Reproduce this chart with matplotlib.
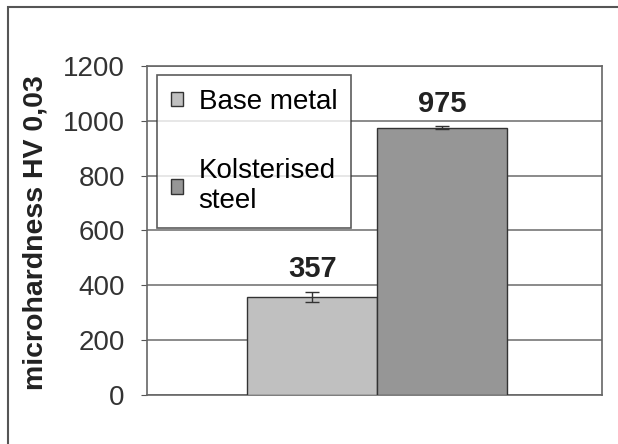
import matplotlib
matplotlib.use("Agg")
import matplotlib.pyplot as plt
from matplotlib.patches import Rectangle

# Data
series = ["Base metal", "Kolsterised\nsteel"]
values = [357, 975]
errors = [18, 5]
bar_colors = ["#c0c0c0", "#969696"]
yticks = [0, 200, 400, 600, 800, 1000, 1200]

plt.rcParams['font.family'] = ['Liberation Sans', 'DejaVu Sans']

fig = plt.figure(figsize=(6.18, 4.44), dpi=100)
ax = fig.add_axes([0.2379, 0.1104, 0.7362, 0.741])

# outer frame of the picture
fig.patches.append(Rectangle((8 / 618, -0.05), 1.2, 1 - 7 / 444 + 0.05, transform=fig.transFigure,
                             fill=False, edgecolor="#555555", linewidth=1.5))

width = 0.285
positions = [0.5055 - width / 2, 0.5055 + width / 2]
for pos, val, err, col, lab in zip(positions, values, errors, bar_colors, series):
    ax.bar(pos, val, width=width, color=col, edgecolor="#333333", linewidth=1.0,
           label=lab, zorder=3)
    ax.errorbar(pos, val, yerr=err, fmt='none', ecolor="#333333", capsize=5,
                elinewidth=1, zorder=4)
    ax.text(pos, val + err + 32, str(val), ha='center', va='bottom',
            fontsize=21, fontweight='bold', color="#222222")

ax.set_xlim(0, 1)
ax.set_ylim(0, 1200)
ax.set_yticks(yticks)
ax.set_xticks([])
ax.tick_params(axis='y', labelsize=20, length=4, direction='out', colors="#555555",
               labelcolor="#333333", pad=12)
ax.yaxis.grid(True, color="#777777", linewidth=1.2, zorder=0)
for s in ax.spines.values():
    s.set_color("#666666")
    s.set_linewidth(1.2)

ax.set_ylabel("microhardness HV 0,03", fontsize=20.5, fontweight='bold', color="#222222")
ax.yaxis.set_label_coords(-0.216, 0.495)

leg = ax.legend(loc='upper left', bbox_to_anchor=(0.022, 0.9726), borderaxespad=0,
                fontsize=20, frameon=True, fancybox=False, edgecolor="#333333",
                handlelength=0.45, handleheight=0.45, handletextpad=0.55,
                labelspacing=1.55, borderpad=0.5)
leg.get_frame().set_linewidth(1.2)
leg.set_zorder(5)

fig.savefig("out.png", dpi=100)
